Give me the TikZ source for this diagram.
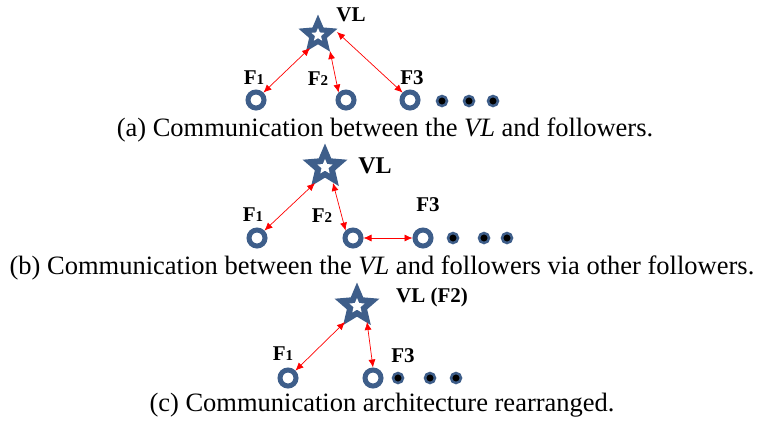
\documentclass[tikz,border=0pt]{standalone}
\usepackage{fontspec}
\setmainfont{Liberation Serif}
\usetikzlibrary{shapes.geometric,arrows.meta}
\definecolor{nodeblue}{RGB}{62,94,138}
\tikzset{
  leader/.style={star, star points=5, star point ratio=2.2, fill=nodeblue,
    minimum size=#1, inner sep=0pt, outer sep=0pt},
  leadercore/.style={star, star points=5, star point ratio=2.2, fill=white,
    minimum size=#1, inner sep=0pt},
  follower/.style={circle, draw=nodeblue, line width=5pt, minimum size=16,
    inner sep=0pt},
  spare/.style={circle, draw=nodeblue, fill=black, line width=2.5pt,
    minimum size=10, inner sep=0pt},
  lbl/.style={font=\bfseries\fontsize{21}{24}\selectfont, inner sep=0pt},
  biglbl/.style={font=\bfseries\fontsize{24}{27}\selectfont, inner sep=0pt},
  link/.style={red, line width=0.7pt, {Latex[length=8pt,width=7pt]}-{Latex[length=8pt,width=7pt]}},
  caption/.style={font=\fontsize{26.5}{30}\selectfont, inner sep=0pt},
}
\newcommand{\sm}[1]{{\fontsize{15}{17}\selectfont #1}}
\begin{document}
\begin{tikzpicture}[x=1pt,y=-1pt]
\useasboundingbox (0,0) rectangle (761,421);

% (a) direct links
\node[leader=41] (vla) at (318,35) {};
\node[leadercore=14] at (vla.center) {};
\node[lbl] (vlal) at (351,15) {VL};
\node[follower] (f1a) at (256,100) {};
\node[follower] (f2a) at (346,100) {};
\node[follower] (f3a) at (410,100) {};
\node[spare] (d1a) at (442,101) {};
\node[spare] (d2a) at (469,101) {};
\node[spare] (d3a) at (493,101) {};
\node[lbl] at (254,78) {F\sm{1}};
\node[lbl] at (318,79) {F\sm{2}};
\node[lbl] at (412,78) {F3};
\coordinate (a1) at ([shift={(-8,13)}]vla.center);
\coordinate (a2) at ([shift={(12,16)}]vla.center);
\coordinate (a3) at ([shift={(19,-3)}]vla.center);
\draw[link] (f1a.north east) -- (a1);
\draw[link] (f2a.north west) -- (a2);
\draw[link] (f3a.north west) -- (a3);
\node[caption] (capa) at (385,130) {(a) Communication between the \textit{VL} and followers.};

% (b) relayed links
\node[leader=47] (vlb) at (325,167) {};
\node[leadercore=16] at (vlb.center) {};
\node[biglbl] (vlbl) at (375,166) {VL};
\node[follower] (f1b) at (257,238) {};
\node[follower] (f2b) at (353,238) {};
\node[follower] (f3b) at (423,238) {};
\node[spare] (d1b) at (453,238) {};
\node[spare] (d2b) at (484,238) {};
\node[spare] (d3b) at (507,238) {};
\node[lbl] at (253,215) {F\sm{1}};
\node[lbl] at (322,216) {F\sm{2}};
\node[lbl] at (428,205) {F3};
\coordinate (b1) at ([shift={(-10,16)}]vlb.center);
\coordinate (b2) at ([shift={(8,16)}]vlb.center);
\draw[link] (f1b.north east) -- (b1);
\draw[link] (f2b.north west) -- (b2);
\draw[link] (f2b.east) -- (f3b.west);
\node[caption] (capb) at (382,268) {(b) Communication between the \textit{VL} and followers via other followers.};

% (c) rearranged
\node[leader=47] (vlc) at (357,306) {};
\node[leadercore=16] at (vlc.center) {};
\node[lbl] (vlcl) at (432,297) {VL (F2)};
\node[follower] (f1c) at (288,378) {};
\node[follower] (f3c) at (373,378) {};
\node[spare] (d1c) at (398,378) {};
\node[spare] (d2c) at (430,378) {};
\node[spare] (d3c) at (456,378) {};
\node[lbl] at (283,354) {F\sm{1}};
\node[lbl] at (403,356) {F3};
\coordinate (c1) at ([shift={(-12,16)}]vlc.center);
\coordinate (c2) at ([shift={(10,16)}]vlc.center);
\draw[link] (f1c.north east) -- (c1);
\draw[link] (f3c.north) -- (c2);
\node[caption] (capc) at (382,405) {(c) Communication architecture rearranged.};
\end{tikzpicture}
\end{document}
